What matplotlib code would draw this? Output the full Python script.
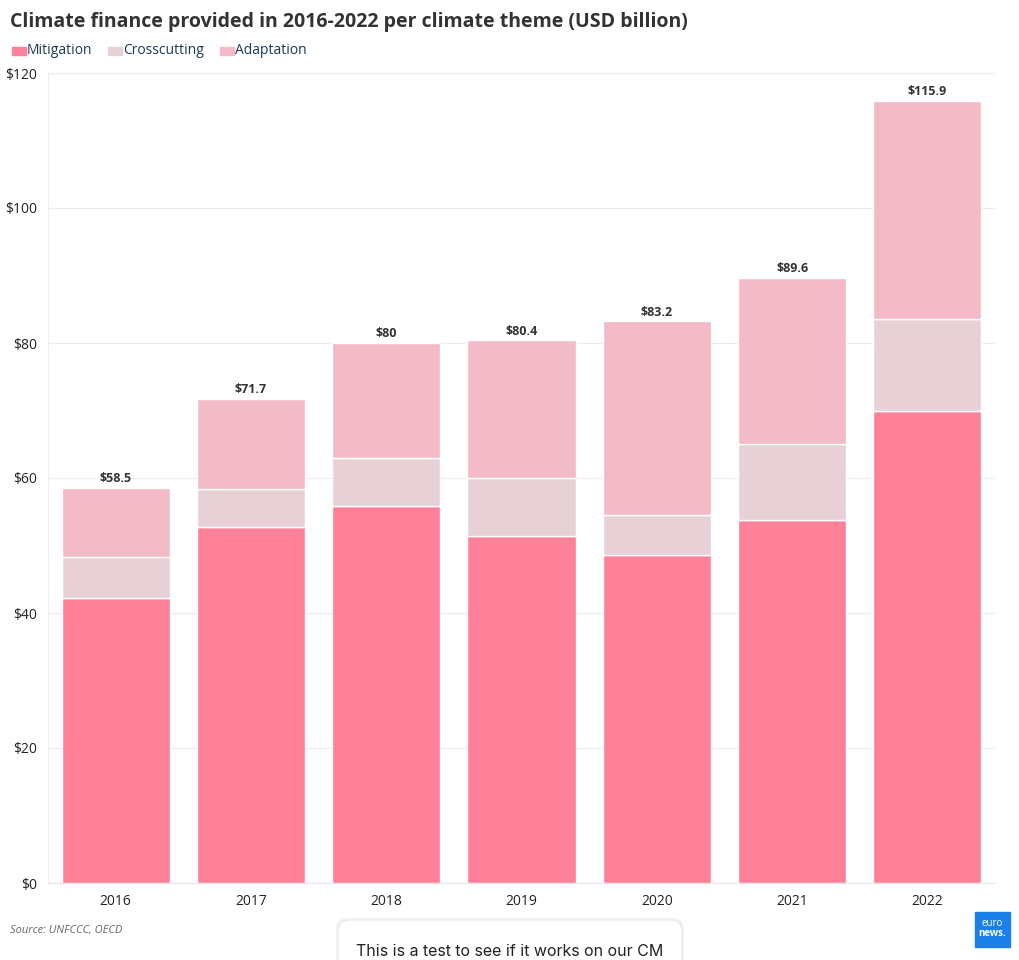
import matplotlib.pyplot as plt
from matplotlib.patches import FancyBboxPatch, Rectangle

years      = ['2016', '2017', '2018', '2019', '2020', '2021', '2022']
mitigation = [42.2, 52.7, 55.9, 51.4, 48.6, 53.8, 69.9]
crosscut   = [6.1, 5.7, 7.1, 8.6, 5.9, 11.2, 13.7]
adaptation = [10.2, 13.3, 17.0, 20.4, 28.7, 24.6, 32.3]
totals     = ['$58.5', '$71.7', '$80', '$80.4', '$83.2', '$89.6', '$115.9']
yticks     = [0, 20, 40, 60, 80, 100, 120]

C_MIT = '#ff8099'
C_CROSS = '#e8d1d6'
C_ADAPT = '#f3bac7'

plt.rcParams['font.family'] = ['Open Sans', 'DejaVu Sans']

fig = plt.figure(figsize=(10.2, 9.6), dpi=100)
ax = fig.add_axes([48 / 1020, 1 - 883 / 960, 947 / 1020, 810 / 960])

x = range(len(years))
bottom2 = [m + c for m, c in zip(mitigation, crosscut)]
ax.bar(x, mitigation, width=0.8, color=C_MIT, edgecolor='white', linewidth=1.0, label='Mitigation', zorder=3)
ax.bar(x, crosscut, width=0.8, bottom=mitigation, color=C_CROSS, edgecolor='white', linewidth=1.0,
       label='Crosscutting', zorder=3)
ax.bar(x, adaptation, width=0.8, bottom=bottom2, color=C_ADAPT, edgecolor='white', linewidth=1.0,
       label='Adaptation', zorder=3)

for i, lab in enumerate(totals):
    top = bottom2[i] + adaptation[i]
    ax.annotate(lab, (i, top), xytext=(0, 2), textcoords='offset points', ha='center', va='bottom',
                fontsize=9, fontweight='bold', color='#333333')

ax.set_xlim(-0.5, 6.5)
ax.set_ylim(0, 120)
ax.set_yticks(yticks)
ax.set_yticklabels(['$%d' % v for v in yticks])
ax.set_xticks(list(x))
ax.set_xticklabels(years)
ax.tick_params(axis='both', length=0, labelsize=10, colors='#222222')
ax.tick_params(axis='y', pad=8)
ax.tick_params(axis='x', pad=8)
ax.grid(axis='y', color='#ececec', linewidth=0.8, zorder=0)
for s in ['top', 'right']:
    ax.spines[s].set_visible(False)
ax.spines['left'].set_color('#eeeeee')
ax.spines['bottom'].set_color('#e6e6e6')

fig.text(10 / 1020, 1 - 22 / 960, 'Climate finance provided in 2016-2022 per climate theme (USD billion)',
         fontsize=14, fontweight='bold', color='#333333', va='center')

# legend
leg_items = [('Mitigation', C_MIT, 12), ('Crosscutting', C_CROSS, 108), ('Adaptation', C_ADAPT, 220)]
for name, col, px in leg_items:
    fig.patches.append(Rectangle((px / 1020, 1 - 55 / 960), 14 / 1020, 8 / 960, color=col,
                                 transform=fig.transFigure))
    fig.text((px + 15) / 1020, 1 - 51 / 960, name, fontsize=10, color='#1b3a57', va='center')

fig.text(10 / 1020, 1 - 931 / 960, 'Source: UNFCCC, OECD', fontsize=8, style='italic',
         color='#666666', va='center')

# popup box at bottom
shadow = FancyBboxPatch((336 / 1020, 1 - 992 / 960), 348 / 1020, 74 / 960,
                        boxstyle='round,pad=0,rounding_size=0.012', transform=fig.transFigure,
                        facecolor='#f2f2f2', edgecolor='none')
fig.patches.append(shadow)
box = FancyBboxPatch((338 / 1020, 1 - 990 / 960), 344 / 1020, 70 / 960,
                     boxstyle='round,pad=0,rounding_size=0.012', transform=fig.transFigure,
                     facecolor='white', edgecolor='#e8e8e8', linewidth=0.8)
fig.patches.append(box)
fig.text(510 / 1020, 1 - 951 / 960, 'This is a test to see if it works on our CM', fontsize=11.5,
         color='#222222', ha='center', va='center', family=['Inter', 'DejaVu Sans'])

# euronews logo
fig.patches.append(Rectangle((975 / 1020, 1 - 947 / 960), 35 / 1020, 35 / 960, color='#1a7fe6',
                             transform=fig.transFigure))
fig.text(992 / 1020, 1 - 924 / 960, 'euro', fontsize=7, color='white', ha='center', va='center')
fig.text(992 / 1020, 1 - 934 / 960, 'news.', fontsize=7, color='white', ha='center', va='center',
         fontweight='bold')

fig.savefig('out.png', dpi=100)
